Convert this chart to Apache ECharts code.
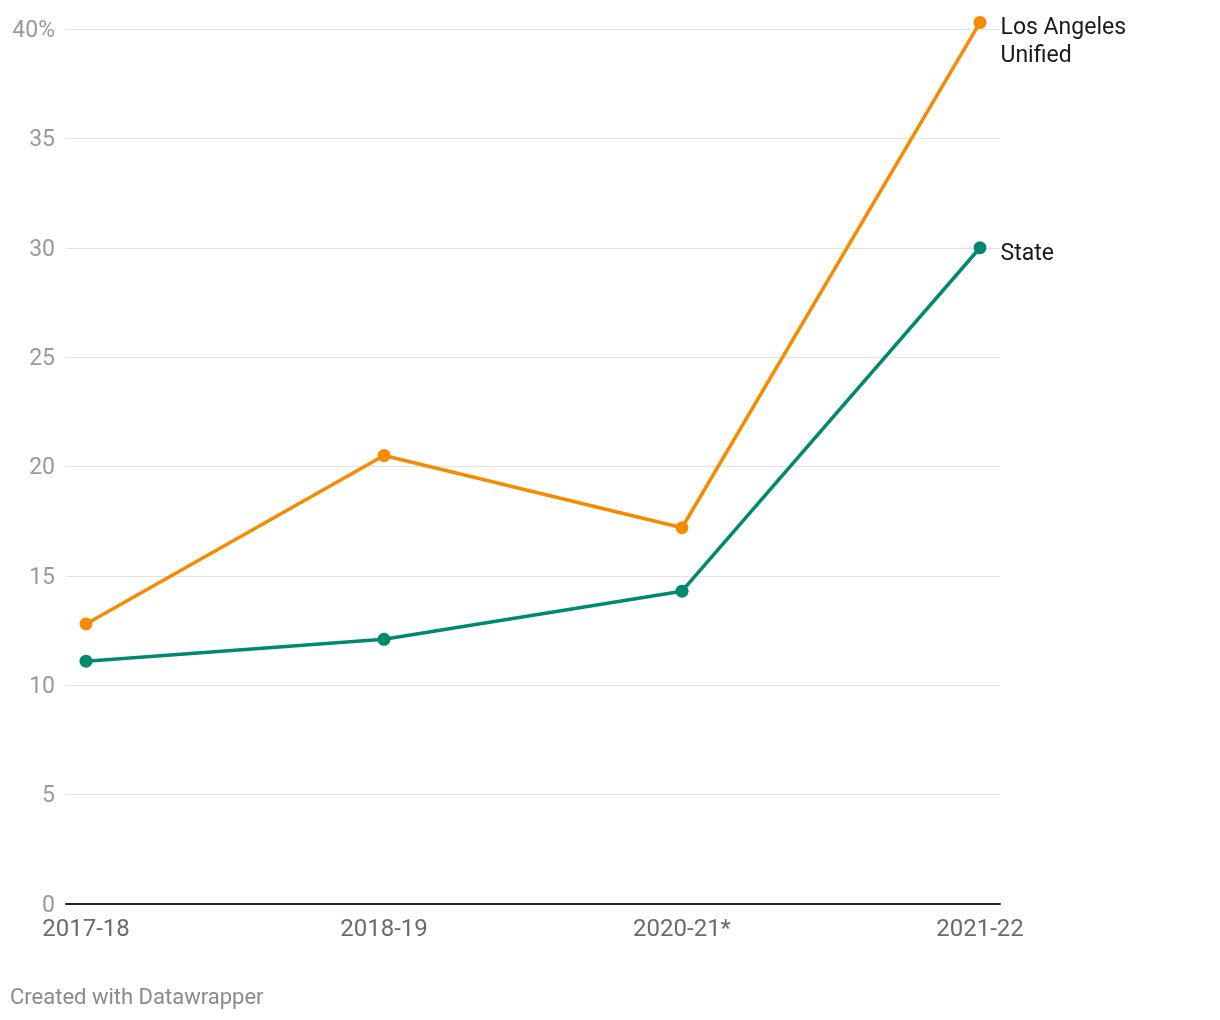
<!DOCTYPE html>
<html>
<head>
<meta charset="utf-8">
<script src="https://cdn.jsdelivr.net/npm/echarts@6/dist/echarts.min.js"></script>
<style>
html,body{margin:0;padding:0;background:#fff;}
#c{width:1220px;height:1020px;}
</style>
</head>
<body>
<div id="c"></div>
<script>
const categories = ['2017-18', '2018-19', '2020-21*', '2021-22'];
const laUnified = [12.8, 20.5, 17.2, 40.3];
const stateVals = [11.1, 12.1, 14.3, 30.0];
const seriesNames = ['Los Angeles\nUnified', 'State'];
const yMin = 0, yMax = 40, yStep = 5;

const chart = echarts.init(document.getElementById('c'));
const font = 'Roboto, sans-serif';
chart.setOption({
  animation: false,
  textStyle: { fontFamily: font },
  grid: [
    { left: 66, right: 220, top: 29, bottom: 116 },
    { left: 86, right: 240, top: 29, bottom: 116 }
  ],
  xAxis: [
    { gridIndex: 0, type: 'value', min: 0, max: 1, show: true,
      axisLine: { show: true, onZero: false, lineStyle: { color: '#222', width: 2 } },
      axisTick: { show: false }, axisLabel: { show: false }, splitLine: { show: false } },
    { gridIndex: 1, type: 'category', data: categories, boundaryGap: false,
      axisLine: { show: false }, axisTick: { show: false },
      axisLabel: { color: '#6b6b6b', fontSize: 24, margin: 14, fontFamily: font } }
  ],
  yAxis: [
    { gridIndex: 0, type: 'value', min: yMin, max: yMax, interval: yStep,
      axisLine: { show: false }, axisTick: { show: false },
      axisLabel: { color: '#9a9a9a', fontSize: 23, margin: 11, fontFamily: font,
        formatter: v => '{a|' + (v === yMax ? v + '%' : String(v)) + '}',
        rich: { a: { color: '#9a9a9a', fontSize: 23, fontFamily: font, padding: [4, 0, 0, 0] } } },
      splitLine: { lineStyle: { color: '#e2e2e2', width: 1 } } },
    { gridIndex: 1, type: 'value', min: yMin, max: yMax, interval: yStep, show: false,
      splitLine: { show: false } }
  ],
  series: [
    { name: seriesNames[0], type: 'line', xAxisIndex: 1, yAxisIndex: 1, data: laUnified,
      clip: false, z: 3,
      color: '#f78b00', lineStyle: { width: 3.5 }, symbol: 'circle', symbolSize: 13,
      label: { show: true, position: 'right', distance: 14, color: '#1a1a1a', fontSize: 23,
        fontFamily: font, align: 'left', verticalAlign: 'top', lineHeight: 28, offset: [0, -8],
        formatter: p => p.dataIndex === laUnified.length - 1 ? seriesNames[0] : '' } },
    { name: seriesNames[1], type: 'line', xAxisIndex: 1, yAxisIndex: 1, data: stateVals,
      clip: false, z: 3,
      color: '#00896e', lineStyle: { width: 3.5 }, symbol: 'circle', symbolSize: 13,
      label: { show: true, position: 'right', distance: 14, color: '#1a1a1a', fontSize: 23,
        fontFamily: font, offset: [0, 6],
        formatter: p => p.dataIndex === stateVals.length - 1 ? seriesNames[1] : '' } }
  ],
  graphic: [
    { type: 'text', left: 10, top: 987, style: { text: 'Created with Datawrapper',
      fill: '#8a8a8a', font: '22px Roboto, sans-serif' } }
  ]
});
</script>
</body>
</html>
